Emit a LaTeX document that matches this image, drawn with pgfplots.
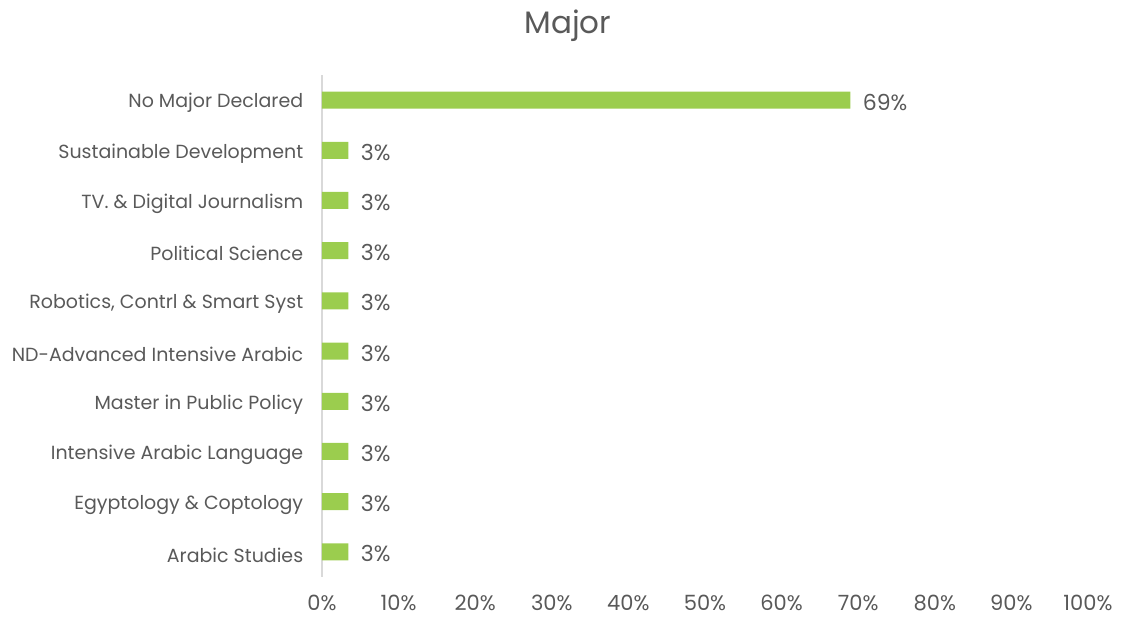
\documentclass[border=0pt]{standalone}
\usepackage{pgfplots}
\pgfplotsset{compat=1.18}
\usepackage{fontspec}
\setmainfont{Poppins}
\definecolor{bargreen}{HTML}{9BCD4E}
\definecolor{txtgray}{HTML}{595959}
\definecolor{axgray}{HTML}{D9D9D9}
\begin{document}
\begin{tikzpicture}
\begin{axis}[
  scale only axis,
  width=766pt, height=502pt,
  xmin=0, xmax=100,
  ymin=-0.5, ymax=9.5,
  xbar, bar width=17pt,
  axis x line=none,
  axis y line*=left,
  y axis line style={axgray, line width=1.2pt},
  ytick={0,...,9},
  yticklabels={Arabic Studies, Egyptology \& Coptology, Intensive Arabic Language, Master in Public Policy, ND-Advanced Intensive Arabic, {Robotics, Contrl \& Smart Syst}, Political Science, TV. \& Digital Journalism, Sustainable Development, No Major Declared},
  ytick style={draw=none},
  yticklabel style={font=\fontsize{19}{22}\selectfont, text=txtgray, xshift=-11pt, yshift=-3pt},
  point meta=x,
  nodes near coords={\pgfmathprintnumber[fixed,precision=0,assume math mode=true]{\pgfplotspointmeta}\%},
  nodes near coords style={font=\fontsize{22}{26}\selectfont, text=txtgray, anchor=west, xshift=9pt, yshift=-2pt},
  title={Major},
  title style={font=\fontsize{31}{36}\selectfont, text=txtgray, xshift=-137pt, yshift=24pt},
  clip=false,
]
\addplot[fill=bargreen, draw=none] coordinates {
(3.45,0) (3.45,1) (3.45,2) (3.45,3) (3.45,4) (3.45,5) (3.45,6) (3.45,7) (3.45,8) (68.97,9)};
\foreach \t in {0,10,...,100} {
  \edef\tmp{\noexpand\node[font=\noexpand\fontsize{21}{25}\noexpand\selectfont, text=txtgray, inner sep=0pt] at (axis cs:\t,-0.5) [yshift=-26pt] {\t\noexpand\%};}
  \tmp
}
\end{axis}
\path (current axis.south west) ++(-322pt,-40pt) rectangle ++(1122pt,617pt);
\end{tikzpicture}
\end{document}
